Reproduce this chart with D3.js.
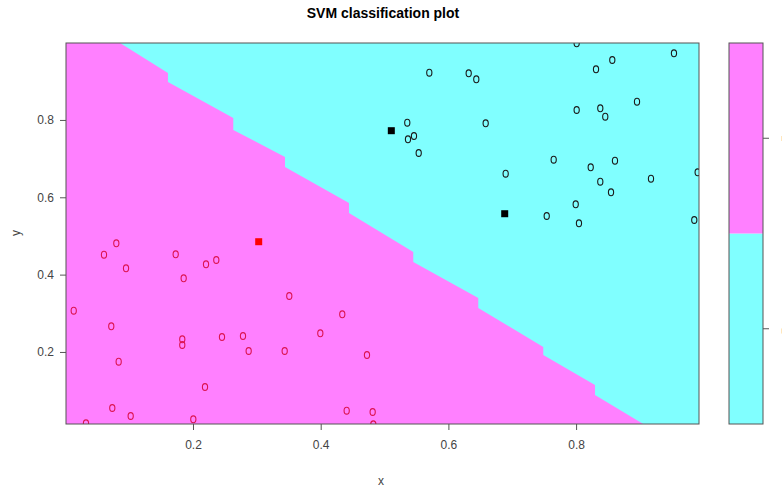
<html>
<head>
<title>SVM classification plot</title>
<script src="https://cdn.jsdelivr.net/npm/d3@7"></script>
<style type="text/css">
  body { margin: 0; background: #fff; }
  svg { font-family: "Liberation Sans", Arial, sans-serif; }
</style>
</head>
<body>
<svg id="svg"></svg>
<script type="text/javascript">
// data
var xTicks = [0.2, 0.4, 0.6, 0.8];
var yTicks = [0.2, 0.4, 0.6, 0.8];
var xRange = [0.0011, 0.9925];
var yRange = [0.0137, 0.999];

// class "1" points (red o, magenta side)
var redX = [0.0799,0.0606,0.1729,0.2365,0.2204,0.0951,0.1854,0.3508,0.0132,0.4338,0.0720,0.3994,0.1832,0.1832,0.2454,0.2783,0.2872,0.3436,0.4725,0.0836,0.2188,0.0736,0.1024,0.2005,0.4407,0.4814,0.0324,0.4824];
var redY = [0.4810,0.4515,0.4525,0.4378,0.4267,0.4163,0.3905,0.3447,0.3067,0.2974,0.2664,0.2483,0.2327,0.2180,0.2387,0.2413,0.2025,0.2025,0.1921,0.1748,0.1094,0.0551,0.0344,0.0259,0.0481,0.0447,0.0155,0.0129];

// class "-1" points (black o, cyan side)
var blackX = [0.8009,0.9533,0.8567,0.8312,0.5701,0.6318,0.6437,0.8954,0.8009,0.8379,0.8457,0.5356,0.6584,0.5367,0.5461,0.5535,0.7649,0.8609,0.8229,0.6897,0.9904,0.8379,0.9173,0.8547,0.7994,0.7540,0.8045,0.9851];
var blackY = [0.9982,0.9723,0.9550,0.9310,0.9222,0.9206,0.9051,0.8472,0.8257,0.8301,0.8084,0.7929,0.7913,0.7499,0.7585,0.7145,0.6972,0.6946,0.6775,0.6610,0.6646,0.6403,0.6481,0.6129,0.5818,0.5516,0.5327,0.5412];

// support vectors
var svX = [0.3029, 0.5106, 0.6882];
var svY = [0.4851, 0.7722, 0.5575];
var svClass = ["1", "-1", "-1"];

// decision boundary on the prediction grid
var boundX = [0.0857,0.1608,0.1608,0.2631,0.2631,0.3441,0.3441,0.4443,0.4443,0.5450,0.5450,0.6468,0.6468,0.7486,0.7486,0.8296,0.8296,0.9052];
var boundY = [0.999,0.9214,0.8981,0.8050,0.7740,0.7042,0.6784,0.5852,0.5593,0.4585,0.4326,0.3396,0.3137,0.2130,0.1923,0.1148,0.0890,0.0137];

var classes = ["-1", "1"];
var classFill = {"-1": "#80FFFF", "1": "#FF80FF"};
var symColor = {"-1": "#1a1a1a", "1": "#dc1450"};

var width = 782, height = 490;
var svg = d3.select("svg").attr("width", width).attr("height", height);

var xScale = d3.scaleLinear().domain(xRange).range([66, 699]);
var yScale = d3.scaleLinear().domain(yRange).range([424, 43]);

svg.append("defs").append("clipPath").attr("id", "panel")
  .append("rect")
  .attr("x", xScale(xRange[0])).attr("y", yScale(yRange[1]))
  .attr("width", xScale(xRange[1]) - xScale(xRange[0]))
  .attr("height", yScale(yRange[0]) - yScale(yRange[1]));

var plot = svg.append("g").attr("clip-path", "url(#panel)");

// magenta background region
plot.append("rect")
  .attr("x", xScale(xRange[0])).attr("y", yScale(yRange[1]))
  .attr("width", xScale(xRange[1]) - xScale(xRange[0]))
  .attr("height", yScale(yRange[0]) - yScale(yRange[1]))
  .attr("fill", classFill["1"]);

// cyan region above the boundary
var poly = boundX.map(function(d, i){ return [xScale(d), yScale(boundY[i])]; });
poly.push([xScale(xRange[1]), yScale(yRange[0])]);
poly.push([xScale(xRange[1]), yScale(yRange[1])]);
plot.append("polygon")
  .attr("points", poly.map(function(p){ return p.join(","); }).join(" "))
  .attr("fill", classFill["-1"]);

// data points as "o"
function drawPts(xs, ys, col){
  plot.selectAll(null)
    .data(xs)
    .enter()
    .append("ellipse")
    .attr("cx", function(d){ return xScale(d); })
    .attr("cy", function(d, i){ return yScale(ys[i]); })
    .attr("rx", 2.6).attr("ry", 3.4)
    .attr("fill", "none")
    .attr("stroke", col)
    .attr("stroke-width", 1.1);
}
drawPts(redX, redY, symColor["1"]);
drawPts(blackX, blackY, symColor["-1"]);

plot.selectAll("rect.sv")
  .data(svX)
  .enter()
  .append("rect")
  .attr("class", "sv")
  .attr("x", function(d){ return xScale(d) - 3.5; })
  .attr("y", function(d, i){ return yScale(svY[i]) - 3.5; })
  .attr("width", 7).attr("height", 7)
  .attr("fill", function(d, i){ return svClass[i] == "1" ? "#ff0000" : "#000"; });

// panel box
svg.append("rect")
  .attr("x", xScale(xRange[0])).attr("y", yScale(yRange[1]))
  .attr("width", xScale(xRange[1]) - xScale(xRange[0]))
  .attr("height", yScale(yRange[0]) - yScale(yRange[1]))
  .attr("fill", "none").attr("stroke", "#555").attr("stroke-width", 1);

// axes
var xAxis = d3.axisBottom(xScale).tickValues(xTicks).tickSize(6).tickPadding(10).tickFormat(d3.format(".1f"));
var gX = svg.append("g").attr("transform", "translate(0,424)").call(xAxis);
var yAxis = d3.axisLeft(yScale).tickValues(yTicks).tickSize(6).tickPadding(6).tickFormat(d3.format(".1f"));
var gY = svg.append("g").attr("transform", "translate(66,0)").call(yAxis);
[gX, gY].forEach(function(g){
  g.select(".domain").remove();
  g.selectAll("line").attr("stroke", "#555");
  g.selectAll("text").attr("font-size", 12).attr("fill", "#444").attr("font-family", "Liberation Sans, Arial, sans-serif");
});

// titles
svg.append("text").attr("x", 383).attr("y", 18)
  .attr("text-anchor", "middle").attr("font-weight", "bold").attr("font-size", 14)
  .text("SVM classification plot");
svg.append("text").attr("x", 381).attr("y", 485)
  .attr("text-anchor", "middle").attr("font-size", 12).attr("fill", "#444").text("x");
svg.append("text").attr("transform", "translate(20,233) rotate(-90)")
  .attr("text-anchor", "middle").attr("font-size", 12).attr("fill", "#444").text("y");

// key
var keyScale = d3.scaleBand().domain(classes).range([424, 43]);
var key = svg.append("g");
key.selectAll("rect")
  .data(classes)
  .enter()
  .append("rect")
  .attr("x", 729).attr("width", 34)
  .attr("y", function(d){ return keyScale(d); })
  .attr("height", keyScale.bandwidth())
  .attr("fill", function(d){ return classFill[d]; });
key.append("rect").attr("x", 729).attr("y", 43).attr("width", 34).attr("height", 381)
  .attr("fill", "none").attr("stroke", "#555");
var gK = svg.append("g").attr("transform", "translate(763,0)")
  .call(d3.axisRight(keyScale).tickSize(6));
gK.select(".domain").remove();
gK.selectAll("line").attr("stroke", "#555");
gK.selectAll("text")
  .attr("font-size", 12).attr("fill", "#444")
  .attr("x", 0).attr("y", 0).attr("dy", null)
  .attr("text-anchor", "middle")
  .attr("transform", "translate(19,0) rotate(90)");
</script>
</body>
</html>
